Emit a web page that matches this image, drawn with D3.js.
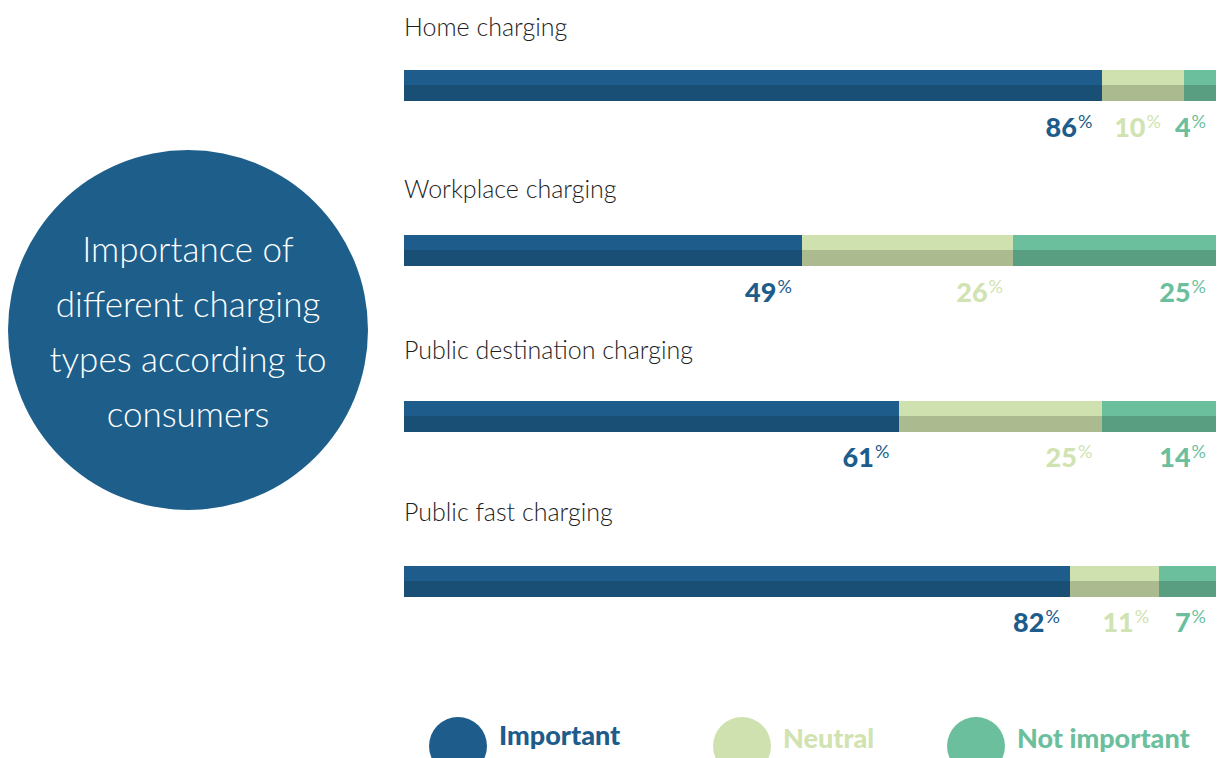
<!DOCTYPE html>
<html>
	<head>
		<meta charset="utf-8">
		<title>Charging types</title>
		<style>
			body{margin:0;background:#fff;}
			svg{display:block;}
		</style>
	</head>
	<body>
		<script src="https://cdn.jsdelivr.net/npm/d3@7/dist/d3.min.js"></script>
		<script>
			// data
			var categories = ["Home charging","Workplace charging","Public destination charging","Public fast charging"];
			var important = [86,49,61,82];
			var neutral = [10,26,25,11];
			var notImportant = [4,25,14,7];
			var seriesNames = ["Important","Neutral","Not important"];
			var titleLines = ["Importance of","different charging","types according to","consumers"];

			var colors = {
				"Important":{top:"#1d5c8b",bottom:"#1a4f75",text:"#1d5c8b"},
				"Neutral":{top:"#d0e1b0",bottom:"#abba8f",text:"#d0e3b0"},
				"Not important":{top:"#6cbf9d",bottom:"#5a9e81",text:"#6cbf9d"}
			};

			var W = 1227, H = 758;
			var svg = d3.select("body").append("svg")
						.attr("width",W)
						.attr("height",H);

			var rows = categories.map(function(c,i){
				return {cat:c,"Important":important[i],"Neutral":neutral[i],"Not important":notImportant[i]};
			});
			var stacked = d3.stack().keys(seriesNames)(rows);

			//scales
			var x = d3.scaleLinear().domain([0,100]).range([404,1216]);
			var yBar = d3.scalePoint().domain(categories).range([70,566]);
			var yTitle = d3.scalePoint().domain(categories).range([36,521]);
			var yLabel = d3.scalePoint().domain(categories).range([137,632]);
			var topH = 15, bottomH = 16;

			//big circle
			svg.append("circle")
				.attr("cx",188).attr("cy",330).attr("r",180)
				.attr("fill","#1d5e8a");

			svg.append("g").selectAll("text")
				.data(titleLines)
				.enter().append("text")
				.attr("x",188)
				.attr("y",function(d,i){ return 262+i*55; })
				.attr("text-anchor","middle")
				.attr("fill","#fff")
				.style("font-family","Lato, 'Open Sans', sans-serif")
				.style("font-weight",300)
				.style("font-size","35px")
				.text(function(d){ return d; });

			//row titles
			svg.append("g").selectAll("text")
				.data(categories)
				.enter().append("text")
				.attr("x",404)
				.attr("y",function(d){ return yTitle(d); })
				.attr("fill","#1e1e1e")
				.style("font-family","Lato, 'Open Sans', sans-serif")
				.style("font-weight",300)
				.style("font-size","25px")
				.text(function(d){ return d; });

			//bars: lighter top half, darker bottom half
			var series = svg.append("g").selectAll("g")
				.data(stacked)
				.enter().append("g")
				.attr("shape-rendering","crispEdges");

			series.selectAll("rect.top")
				.data(function(s){ return s.map(function(p){ p.key = s.key; return p; }); })
				.enter().append("rect")
				.attr("class","top")
				.attr("x",function(d){ return x(d[0]); })
				.attr("width",function(d){ return x(d[1])-x(d[0]); })
				.attr("y",function(d){ return yBar(d.data.cat); })
				.attr("height",topH)
				.attr("fill",function(d){ return colors[d.key].top; });

			series.selectAll("rect.bottom")
				.data(function(s){ return s; })
				.enter().append("rect")
				.attr("class","bottom")
				.attr("x",function(d){ return x(d[0]); })
				.attr("width",function(d){ return x(d[1])-x(d[0]); })
				.attr("y",function(d){ return yBar(d.data.cat)+topH; })
				.attr("height",bottomH)
				.attr("fill",function(d){ return colors[d.key].bottom; });

			//value labels, right aligned to the end of the segment
			var labelG = svg.append("g");
			var labels = labelG.selectAll("text")
				.data(d3.merge(stacked))
				.enter().append("text")
				.attr("x",function(d){ return Math.min(x(d[1])-10,1216); })
				.attr("y",function(d){ return yLabel(d.data.cat); })
				.attr("text-anchor","end")
				.attr("fill",function(d){ return colors[d.key].text; })
				.style("font-family","Lato, sans-serif")
				.style("font-weight",900)
				.style("font-size","27px");
			labels.append("tspan")
				.text(function(d){ return d.data[d.key]; });
			labels.append("tspan")
				.attr("dx",1)
				.attr("dy",-9)
				.style("font-size","18px")
				.style("font-weight",400)
				.text("%");

			//push labels left if they run into the next one in the same row
			categories.forEach(function(c){
				var row = labels.filter(function(d){ return d.data.cat==c; }).nodes();
				for(var i=row.length-2;i>=0;i--){
					var a = row[i].getBBox(), b = row[i+1].getBBox();
					var over = a.x+a.width+14-b.x;
					if(over>0){
						d3.select(row[i]).attr("x",+row[i].getAttribute("x")-over);
					}
				}
			});

			//legend
			var legendX = [458,742,976];
			var legend = svg.append("g").selectAll("g")
				.data(seriesNames)
				.enter().append("g")
				.attr("transform",function(d,i){ return "translate("+legendX[i]+",0)"; });
			legend.append("circle")
				.attr("cx",0).attr("cy",746).attr("r",29)
				.attr("fill",function(d){ return colors[d].top; });
			legend.append("text")
				.attr("x",41)
				.attr("y",function(d,i){ return i==0 ? 745 : 748; })
				.attr("fill",function(d){ return colors[d].text; })
				.style("font-family","Lato, sans-serif")
				.style("font-weight",900)
				.style("font-size","27px")
				.text(function(d){ return d; });
		</script>
	</body>
</html>
